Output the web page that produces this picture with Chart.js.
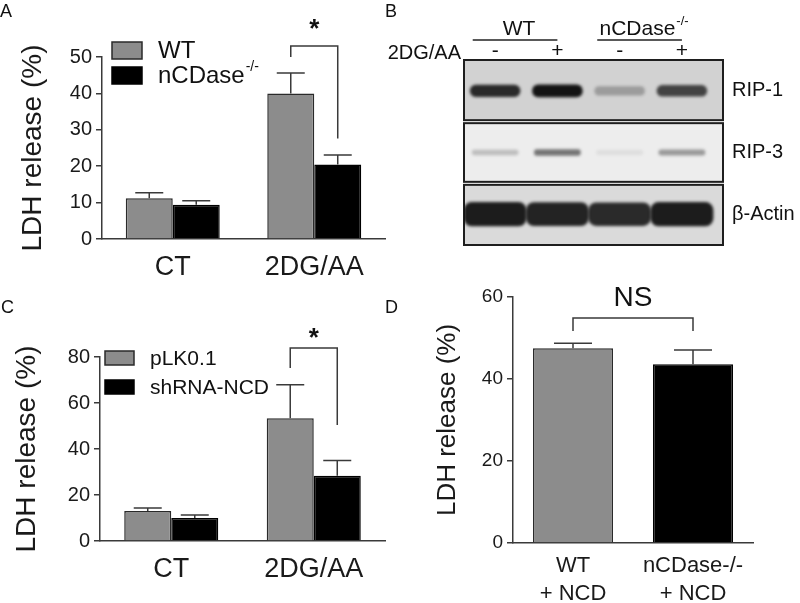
<!DOCTYPE html>
<html><head><meta charset="utf-8">
<script src="https://cdn.jsdelivr.net/npm/chart.js@4"></script>
<style>
html,body{margin:0;padding:0;background:#fff;}
#wrap{position:relative;width:800px;height:603px;overflow:hidden;background:#fff;}
canvas{position:absolute;}
</style></head><body>
<div id="wrap">
<canvas id="cA" width="395" height="290" style="left:0px;top:0px"></canvas>
<canvas id="cB" width="420" height="270" style="left:380px;top:0px"></canvas>
<canvas id="cC" width="395" height="313" style="left:0px;top:290px"></canvas>
<canvas id="cD" width="420" height="323" style="left:380px;top:280px"></canvas>
</div>
<script>
// ---------- data ----------
const catsAC = ['CT', '2DG/AA'];
// Panel A
const wtA = [11.2, 40.0];
const wtAErr = [1.5, 5.6];
const koA = [9.4, 20.5];
const koAErr = [1.1, 2.6];
const ticksA = [0, 10, 20, 30, 40, 50];
// Panel C
const pLK = [13.0, 53.4];
const pLKErr = [1.3, 14.5];
const shNCD = [10.0, 28.4];
const shNCDErr = [1.3, 6.6];
const ticksC = [0, 20, 40, 60, 80];
// Panel D
const catsD = [['WT', '+ NCD'], ['nCDase-/-', '+ NCD']];
const valsD = [47.5, 43.6];
const errD = [1.2, 3.5];
const ticksD = [0, 20, 40, 60];
// Panel B (western blot, relative band intensity per lane)
const lanes = ['-', '+', '-', '+'];
const laneGroups = ['WT', 'nCDase^-/-'];
const proteins = ['RIP-1', 'RIP-3', 'β-Actin'];
const rip1 = [0.88, 1.0, 0.28, 0.75];
const rip3 = [0.22, 0.55, 0.07, 0.38];
const actin = [0.95, 0.92, 0.88, 0.95];

// ---------- style ----------
const FONT = "'Liberation Sans', Arial, Helvetica, sans-serif";
Chart.defaults.font.family = FONT;
Chart.defaults.color = '#1a1a1a';
const AXIS = '#3a3a3a';
const GREY = '#8c8c8c';
const BLACK = '#000000';

// ---------- plugins ----------
const errorBars = {
  id: 'errorBars',
  afterDatasetsDraw(chart, args, o) {
    const ctx = chart.ctx, ys = chart.scales.y;
    ctx.save();
    ctx.strokeStyle = o.color || AXIS; ctx.lineWidth = o.width || 1.5;
    chart.data.datasets.forEach((ds, i) => {
      const meta = chart.getDatasetMeta(i);
      (ds.errors || []).forEach((e, j) => {
        const el = meta.data[j]; if (!el) return;
        const yt = ys.getPixelForValue(ds.data[j] + e);
        ctx.beginPath();
        ctx.moveTo(el.x, el.y); ctx.lineTo(el.x, yt);
        ctx.moveTo(el.x - o.cap, yt); ctx.lineTo(el.x + o.cap, yt);
        ctx.stroke();
      });
    });
    ctx.restore();
  }
};
const sigBracket = {
  id: 'sigBracket',
  afterDraw(chart, args, o) {
    if (!o || !o.label) return;
    const ctx = chart.ctx, ys = chart.scales.y;
    const a = chart.getDatasetMeta(o.left[0]).data[o.left[1]];
    const b = chart.getDatasetMeta(o.right[0]).data[o.right[1]];
    const yT = ys.getPixelForValue(o.top), yL = ys.getPixelForValue(o.leftEnd), yR = ys.getPixelForValue(o.rightEnd);
    ctx.save();
    ctx.strokeStyle = AXIS; ctx.lineWidth = 1.5;
    ctx.beginPath(); ctx.moveTo(a.x, yL); ctx.lineTo(a.x, yT); ctx.lineTo(b.x, yT); ctx.lineTo(b.x, yR); ctx.stroke();
    ctx.fillStyle = '#111'; ctx.font = o.font; ctx.textAlign = 'center'; ctx.textBaseline = 'middle';
    ctx.fillText(o.label, (a.x + b.x) / 2, ys.getPixelForValue(o.labelAt));
    ctx.restore();
  }
};
function drawSupText(ctx, text, x, y, size, align) {
  const [main, sup] = text.split('^');
  ctx.font = size + 'px ' + FONT;
  const w1 = ctx.measureText(main).width;
  let w2 = 0;
  const ss = Math.round(size * 0.6);
  if (sup) { ctx.font = ss + 'px ' + FONT; w2 = ctx.measureText(sup).width; }
  let x0 = align === 'center' ? x - (w1 + w2) / 2 : x;
  ctx.textAlign = 'left'; ctx.textBaseline = 'middle';
  ctx.font = size + 'px ' + FONT; ctx.fillText(main, x0, y);
  if (sup) { ctx.font = ss + 'px ' + FONT; ctx.fillText(sup, x0 + w1 + 1, y - size * 0.38); }
}
const boxLegend = {
  id: 'boxLegend',
  afterDraw(chart, args, o) {
    if (!o || o.x === undefined) return;
    const ctx = chart.ctx;
    ctx.save();
    chart.data.datasets.forEach((ds, i) => {
      const y = o.y + i * o.gap;
      ctx.fillStyle = ds.backgroundColor; ctx.fillRect(o.x, y, o.boxW, o.boxH);
      ctx.strokeStyle = ds.borderColor; ctx.lineWidth = 1.5; ctx.strokeRect(o.x, y, o.boxW, o.boxH);
      ctx.fillStyle = '#111';
      drawSupText(ctx, ds.label, o.textX, y + o.boxH / 2 + 1, o.size, 'left');
    });
    ctx.restore();
  }
};
const panelLetter = {
  id: 'panelLetter',
  afterDraw(chart, args, o) {
    if (!o || !o.text) return;
    const ctx = chart.ctx;
    ctx.save(); ctx.fillStyle = '#111'; ctx.font = '18px ' + FONT; ctx.textAlign = 'left'; ctx.textBaseline = 'alphabetic';
    ctx.fillText(o.text, o.x, o.y); ctx.restore();
  }
};
const blotRows = {
  id: 'blotRows',
  beforeDatasetsDraw(chart, args, o) {
    if (!o || !o.bg) return;
    const ctx = chart.ctx, ys = chart.scales.y, ca = chart.chartArea;
    const n = chart.data.labels.length, h = (ca.bottom - ca.top) / n;
    ctx.save();
    chart.data.labels.forEach((lab, k) => {
      const c = ys.getPixelForValue(k);
      const t = c - h / 2 + (k ? 1.5 : 0), b = c + h / 2 - (k < n - 1 ? 1.5 : 0);
      ctx.fillStyle = o.bg[k]; ctx.fillRect(ca.left, t, ca.right - ca.left, b - t);
      ctx.strokeStyle = '#1e1e1e'; ctx.lineWidth = 2; ctx.strokeRect(ca.left, t, ca.right - ca.left, b - t);
    });
    ctx.restore();
    ctx.save(); ctx.filter = 'blur(' + o.blur + 'px)';
  },
  afterDatasetsDraw(chart, args, o) { if (!o || !o.bg) return; chart.ctx.restore(); }
};
const blotHeader = {
  id: 'blotHeader',
  afterDraw(chart, args, o) {
    if (!o || !o.groups) return;
    const ctx = chart.ctx, xs = chart.scales.x;
    ctx.save();
    ctx.fillStyle = '#111';
    o.groups.forEach((g, i) => {
      const x0 = xs.getPixelForValue(i * 2 + 0.14), x1 = xs.getPixelForValue(i * 2 + 1.5);
      ctx.strokeStyle = '#222'; ctx.lineWidth = 1.5;
      ctx.beginPath(); ctx.moveTo(x0, o.lineY); ctx.lineTo(x1, o.lineY); ctx.stroke();
      drawSupText(ctx, g, (x0 + x1) / 2 + 4, o.textY, 21, 'center');
    });
    ctx.font = '20px ' + FONT; ctx.textAlign = 'right'; ctx.textBaseline = 'middle';
    ctx.fillText(o.treat, chart.chartArea.left - 3, o.treatY);
    ctx.restore();
  }
};

function yAxis(ticks, title, titleSize, titlePad, width, tickSize) {
  return {
    min: 0, max: ticks[ticks.length - 1],
    afterBuildTicks: s => { s.ticks = ticks.map(v => ({ value: v })); },
    ticks: { font: { size: tickSize }, padding: 4, color: '#1a1a1a' },
    grid: { drawOnChartArea: false, drawTicks: true, tickLength: 6, color: AXIS, lineWidth: 1.5 },
    border: { display: true, color: AXIS, width: 1.5 },
    title: { display: true, text: title, font: { size: titleSize }, padding: { top: titlePad, bottom: 0 }, color: '#1a1a1a' },
    afterFit: s => { s.width = width; }
  };
}
function xAxis(size, pad, height, lh) {
  return {
    grid: { display: false, drawTicks: false, tickLength: 0 },
    border: { display: true, color: AXIS, width: 1.5 },
    ticks: { font: { size: size, lineHeight: lh || 1.2 }, padding: pad, color: '#1a1a1a', maxRotation: 0 },
    afterFit: s => { s.height = height; }
  };
}
const basePlugins = { legend: { display: false }, tooltip: { enabled: false } };

// ---------- Panel A ----------
new Chart(document.getElementById('cA'), {
  type: 'bar',
  data: {
    labels: catsAC,
    datasets: [
      { label: 'WT', data: wtA, errors: wtAErr, backgroundColor: GREY, borderColor: '#2a2a2a', borderWidth: 1.5, categoryPercentage: 0.664, barPercentage: 1 },
      { label: 'nCDase^-/-', data: koA, errors: koAErr, backgroundColor: BLACK, borderColor: BLACK, borderWidth: 1.5, categoryPercentage: 0.664, barPercentage: 1 }
    ]
  },
  options: {
    responsive: false, animation: false, devicePixelRatio: 1,
    layout: { padding: { left: 0, top: 57, right: 10, bottom: 0 } },
    scales: { x: xAxis(27, 12, 51), y: yAxis(ticksA, 'LDH release (%)', 28, 16, 102, 20) },
    plugins: Object.assign({}, basePlugins, {
      errorBars: { cap: 14, color: AXIS, width: 1.5 },
      sigBracket: { left: [0, 1], right: [1, 1], top: 53, leftEnd: 50, rightEnd: 27.6, label: '*', labelAt: 57.5, font: 'bold 26px ' + FONT },
      boxLegend: { x: 112, y: 42, gap: 25, boxW: 30, boxH: 17, textX: 158, size: 24 },
      panelLetter: { text: 'A', x: 0, y: 17 }
    })
  },
  plugins: [errorBars, sigBracket, boxLegend, panelLetter]
});

// ---------- Panel C ----------
new Chart(document.getElementById('cC'), {
  type: 'bar',
  data: {
    labels: catsAC,
    datasets: [
      { label: 'pLK0.1', data: pLK, errors: pLKErr, backgroundColor: GREY, borderColor: '#2a2a2a', borderWidth: 1.5, categoryPercentage: 0.66, barPercentage: 1 },
      { label: 'shRNA-NCD', data: shNCD, errors: shNCDErr, backgroundColor: BLACK, borderColor: BLACK, borderWidth: 1.5, categoryPercentage: 0.66, barPercentage: 1 }
    ]
  },
  options: {
    responsive: false, animation: false, devicePixelRatio: 1,
    layout: { padding: { left: 0, top: 67, right: 10, bottom: 0 } },
    scales: { x: xAxis(27, 12, 62), y: yAxis(ticksC, 'LDH release (%)', 28, 10, 100, 20) },
    plugins: Object.assign({}, basePlugins, {
      errorBars: { cap: 14, color: AXIS, width: 1.5 },
      sigBracket: { left: [0, 1], right: [1, 1], top: 83.9, leftEnd: 75.2, rightEnd: 50.4, label: '*', labelAt: 88, font: 'bold 26px ' + FONT },
      boxLegend: { x: 105, y: 61, gap: 29, boxW: 29, boxH: 14, textX: 150, size: 21 },
      panelLetter: { text: 'C', x: 1, y: 23 }
    })
  },
  plugins: [errorBars, sigBracket, boxLegend, panelLetter]
});

// ---------- Panel D ----------
new Chart(document.getElementById('cD'), {
  type: 'bar',
  data: {
    labels: catsD,
    datasets: [
      { label: 'LDH', data: valsD, errors: errD, backgroundColor: [GREY, BLACK], borderColor: ['#2a2a2a', BLACK], borderWidth: 1.5, categoryPercentage: 1, barPercentage: 0.667 }
    ]
  },
  options: {
    responsive: false, animation: false, devicePixelRatio: 1,
    layout: { padding: { left: 0, top: 17, right: 47, bottom: 0 } },
    scales: { x: xAxis(22, 9, 60, 1.27), y: yAxis(ticksD, 'LDH release (%)', 26, 52, 133, 19) },
    plugins: Object.assign({}, basePlugins, {
      errorBars: { cap: 19, color: AXIS, width: 1.5 },
      sigBracket: { left: [0, 0], right: [0, 1], top: 54.9, leftEnd: 51.7, rightEnd: 51.7, label: 'NS', labelAt: 59.6, font: '28px ' + FONT },
      panelLetter: { text: 'D', x: 5, y: 33 }
    })
  },
  plugins: [errorBars, sigBracket, panelLetter]
});

// ---------- Panel B ----------
const bandSets = [rip1, rip3, actin];
const bandThick = [12, 7, 24];
const bandSpan = [0.8, 0.74, 1.0];
const laneRange = 4.16;
const blotDatasets = [];
bandSets.forEach((arr, p) => {
  arr.forEach((inten, l) => {
    const th = bandThick[p] * (0.6 + 0.4 * inten);
    blotDatasets.push({
      label: proteins[p] + ' ' + l,
      data: proteins.map((_, k) => k === p ? [l + 0.5 - bandSpan[p] / 2, l + 0.5 + bandSpan[p] / 2] : null),
      backgroundColor: 'rgba(12,12,12,' + (0.97 * inten).toFixed(3) + ')',
      borderWidth: 0, borderSkipped: false, borderRadius: p === 2 ? 8 : th / 2,
      barThickness: th, grouped: false
    });
  });
});
new Chart(document.getElementById('cB'), {
  type: 'bar',
  data: { labels: proteins, datasets: blotDatasets },
  options: {
    indexAxis: 'y',
    responsive: false, animation: false, devicePixelRatio: 1,
    layout: { padding: { left: 84, top: 0, right: 0, bottom: 25 } },
    scales: {
      x: { type: 'linear', min: 0, max: laneRange, display: false },
      x2: {
        type: 'linear', min: 0, max: laneRange, position: 'top',
        afterBuildTicks: s => { s.ticks = lanes.map((_, i) => ({ value: i + 0.5 })); },
        grid: { display: false, drawTicks: false }, border: { display: false },
        ticks: { font: { size: 21, lineHeight: 0.6 }, padding: 2, color: '#111', callback: (v, i) => lanes[i] },
        afterFit: s => { s.height = 60; }
      },
      y: {
        position: 'right', offset: true,
        grid: { display: false, drawTicks: false }, border: { display: false },
        ticks: { font: { size: 20 }, padding: 9, color: '#111' },
        afterFit: s => { s.width = 77; }
      }
    },
    plugins: Object.assign({}, basePlugins, {
      blotRows: { bg: ['#d2d2d2', '#ededed', '#dadada'], blur: 1.5 },
      blotHeader: { groups: laneGroups, lineY: 40, textY: 29, treat: '2DG/AA', treatY: 53 },
      panelLetter: { text: 'B', x: 5, y: 17 }
    })
  },
  plugins: [blotRows, blotHeader, panelLetter]
});
</script>
</body></html>
